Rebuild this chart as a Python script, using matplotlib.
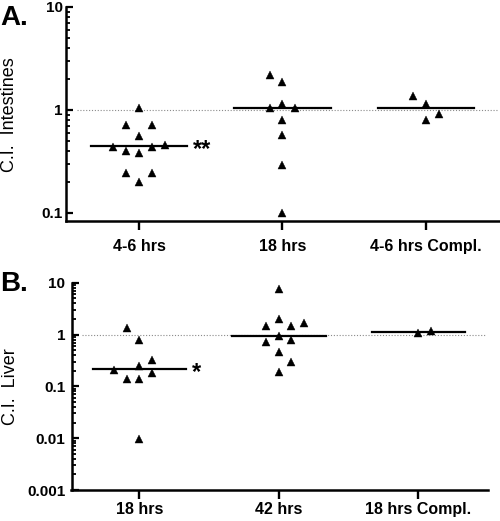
import numpy as np
import matplotlib
matplotlib.use("Agg")
import matplotlib.pyplot as plt
from matplotlib.ticker import FixedLocator, FixedFormatter, NullFormatter

plt.rcParams['font.family'] = ['Liberation Sans', 'DejaVu Sans']

# ---------------- data ----------------
a_categories = ["4-6 hrs", "18 hrs", "4-6 hrs Compl."]
a_values = [
    [1.03, 0.714, 0.714, 0.557, 0.436, 0.438, 0.458, 0.395, 0.378, 0.241, 0.241, 0.198],
    [2.19, 1.875, 1.136, 1.04, 1.05, 0.80, 0.57, 0.29, 0.099],
    [1.37, 1.15, 0.91, 0.80],
]
a_columns = [
    [0, -1, 1, 0, -2, 1, 2, -1, 0, -1, 1, 0],
    [-1, 0, 0, -1, 1, 0, 0, 0, 0],
    [-1, 0, 1, 0],
]
a_medians = [0.44, 1.05, 1.05]
a_marks = ["**", "", ""]

b_categories = ["18 hrs", "42 hrs", "18 hrs Compl."]
b_values = [
    [1.35, 0.80, 0.32, 0.252, 0.204, 0.182, 0.14, 0.14, 0.0098],
    [7.7, 2.01, 1.49, 1.43, 1.68, 0.956, 0.733, 0.776, 0.456, 0.30, 0.19],
    [1.08, 1.18],
]
b_columns = [
    [-1, 0, 1, 0, -2, 1, -1, 0, 0],
    [0, 0, -1, 1, 2, 0, -1, 1, 0, 1, 0],
    [0, 1],
]
b_medians = [0.215, 0.956, 1.14]
b_marks = ["*", "", ""]

a_yticks = [0.1, 1, 10]
a_yticklabels = ["0.1", "1", "10"]
b_yticks = [0.001, 0.01, 0.1, 1, 10]
b_yticklabels = ["0.001", "0.01", "0.1", "1", "10"]

# ---------------- drawing ----------------
W, H = 500, 521
fig = plt.figure(figsize=(W / 100, H / 100), dpi=100)

def px_axes(left, right, top, bottom):
    return fig.add_axes([left / W, 1 - bottom / H, (right - left) / W, (bottom - top) / H])

axA = px_axes(66, 500, 7, 221.5)
axB = px_axes(71.5, 488, 282.7, 490)

SLOT = 0.09
HALF = 0.335

def draw_panel(ax, cats, vals, cols, meds, marks, yticks, yticklabels, ylim, xlim,
               ylabel, xpad, ypad):
    ax.set_yscale('log')
    for i, (v, c) in enumerate(zip(vals, cols)):
        x = i + np.array(c) * SLOT
        ax.plot(x, v, linestyle='none', marker='^', markersize=6.3,
                markerfacecolor='black', markeredgecolor='black', markeredgewidth=0.3,
                zorder=3, clip_on=False)
        ax.plot([i - HALF, i + HALF], [meds[i], meds[i]], color='black', lw=1.6, zorder=2)
        if marks[i]:
            ax.annotate(marks[i], xy=(i + HALF, meds[i]), xytext=(4, -7),
                        textcoords='offset points', ha='left', va='baseline',
                        fontsize=17, fontweight='bold')
    ax.axhline(1, xmin=0.025, xmax=0.995, color='#8a8a8a', lw=0.8,
               linestyle=(0, (1, 1.6)), zorder=1)
    ax.set_xlim(*xlim)
    ax.set_ylim(*ylim)
    ax.set_xticks(range(len(cats)))
    ax.set_xticklabels(cats, fontsize=11.5, fontweight='bold')
    ax.yaxis.set_major_locator(FixedLocator(yticks))
    ax.yaxis.set_major_formatter(FixedFormatter(yticklabels))
    minors = [m * d for d in yticks[:-1] for m in range(2, 10)]
    ax.yaxis.set_minor_locator(FixedLocator(minors))
    ax.yaxis.set_minor_formatter(NullFormatter())
    for lab in ax.get_yticklabels():
        lab.set_fontweight('bold')
        lab.set_fontsize(11)
    ax.tick_params(axis='y', which='major', direction='in', length=5, width=1.6, pad=ypad)
    ax.tick_params(axis='y', which='minor', direction='in', length=3.2, width=1.3)
    ax.tick_params(axis='x', which='major', direction='out', length=6.5, width=1.7, pad=xpad)
    for s in ['top', 'right']:
        ax.spines[s].set_visible(False)
    for s in ['left', 'bottom']:
        ax.spines[s].set_linewidth(1.8)
    ax.set_ylabel(ylabel, fontsize=13, va='center')
    ax.patch.set_alpha(0)

draw_panel(axA, a_categories, a_values, a_columns, a_medians, a_marks,
           a_yticks, a_yticklabels, (0.082, 10), (-0.509, 2.516),
           "C.I.  Intestines", xpad=6, ypad=2.5)
draw_panel(axB, b_categories, b_values, b_columns, b_medians, b_marks,
           b_yticks, b_yticklabels, (0.001, 10), (-0.486, 2.5),
           "C.I.  Liver", xpad=2, ypad=4.5)

axA.yaxis.set_label_coords(-(66 - 10) / 434, 0.5)
axB.yaxis.set_label_coords(-(71.5 - 10) / 416.5, 0.5)

fig.text(0 / W, 1 - 25 / H, "A.", fontsize=20, fontweight='bold', ha='left', va='baseline')
fig.text(0 / W, 1 - 290.7 / H, "B.", fontsize=20, fontweight='bold', ha='left', va='baseline')

fig.savefig("out.png", dpi=100)
